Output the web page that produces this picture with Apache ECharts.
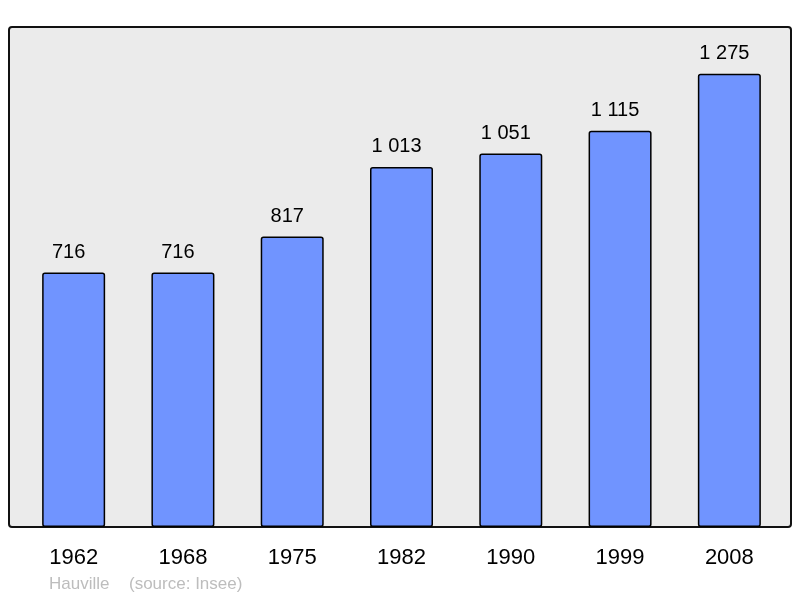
<!DOCTYPE html>
<html><head><meta charset="utf-8">
<script src="https://cdn.jsdelivr.net/npm/echarts@6/dist/echarts.min.js"></script>
<style>html,body{margin:0;padding:0;background:#fff}#c{width:800px;height:598px}</style>
</head><body><div id="c"></div>
<script>
var categories = ['1962','1968','1975','1982','1990','1999','2008'];
var population = [716, 716, 817, 1013, 1051, 1115, 1275];
var captionPlace = 'Hauville';
var captionSource = '(source: Insee)';

function fmt(v){ return String(v).replace(/\B(?=(\d{3})+(?!\d))/g, ' '); }

var chart = echarts.init(document.getElementById('c'), null, {renderer:'canvas'});
chart.setOption({
  animation: false,
  textStyle: {fontFamily: 'Liberation Sans, Arial, sans-serif'},
  graphic: [
    {type:'rect', z:0, shape:{x:9, y:27, width:782, height:500, r:3},
     style:{fill:'#ebebeb', stroke:'#111', lineWidth:2}},
    {type:'text', z:5, left:49, top:576, style:{text:captionPlace, fill:'#bdbdbd', font:'17px Liberation Sans, Arial, sans-serif'}},
    {type:'text', z:5, left:129, top:576, style:{text:captionSource, fill:'#bdbdbd', font:'17px Liberation Sans, Arial, sans-serif'}}
  ],
  grid: {left:19, right:16, top:29.4, bottom:71, containLabel:false},
  xAxis: {
    type:'category', data:categories,
    axisLine:{show:false}, axisTick:{show:false},
    axisLabel:{color:'#000', fontSize:22, margin:20, fontFamily:'Liberation Sans, Arial, sans-serif'}
  },
  yAxis: {type:'value', min:0, max:1400, show:false, splitLine:{show:false}},
  series: [{
    type:'bar', data:population, barWidth:63, z:3,
    itemStyle:{color:'#7094ff', borderColor:'#000', borderWidth:1.5, borderRadius:2},
    label:{show:true, position:'top', distance:10, offset:[-5,0], color:'#000', fontSize:20,
      fontFamily:'Liberation Sans, Arial, sans-serif',
      formatter:function(p){return fmt(p.value);}}
  }]
});
</script></body></html>
